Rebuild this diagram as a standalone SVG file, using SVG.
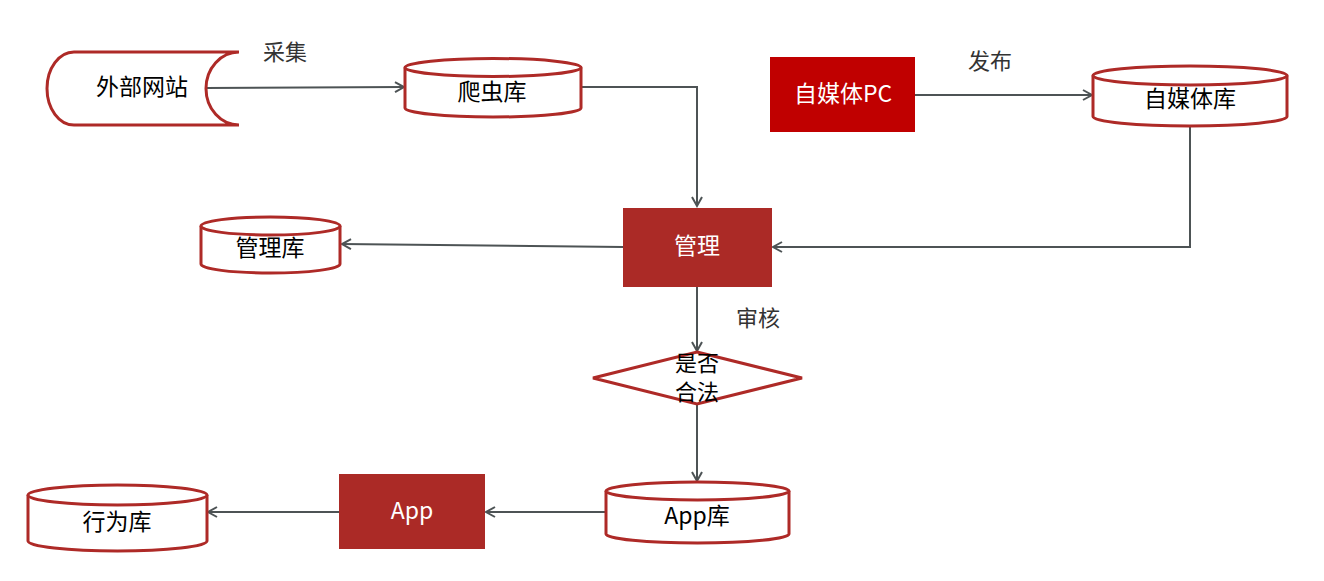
<svg xmlns="http://www.w3.org/2000/svg" width="1324" height="581" viewBox="0 0 1324 581">
  <defs>
    <marker id="arr" markerUnits="userSpaceOnUse" markerWidth="14" markerHeight="14" refX="10" refY="6" orient="auto" viewBox="0 0 14 12">
      <path d="M1,1 L10,6 L1,11" fill="none" stroke="#4D5355" stroke-width="2"/>
    </marker>
    <style>
      .db { fill: #FFFFFF; stroke: #AE2A27; stroke-width: 3; }
      .box { fill: #AB2A26; }
      .pc { fill: #C00000; }
      .t { font-family: "Noto Sans CJK SC", "Noto Sans", sans-serif; font-size: 23px; text-anchor: middle; dominant-baseline: central; fill: #000000; }
      .tw { fill: #FFFFFF; }
      .lbl { font-family: "Noto Sans CJK SC", "Noto Sans", sans-serif; font-size: 22px; text-anchor: middle; dominant-baseline: central; fill: #333333; }
      .c { fill: none; stroke: #4D5355; stroke-width: 2; marker-end: url(#arr); }
    </style>
  </defs>
  <rect width="1324" height="581" fill="#FFFFFF"/>

  <g id="connectors">
    <path class="c" d="M206,88 L404,87"/>
    <path class="c" d="M581,87 H697 V206"/>
    <path class="c" d="M915,95 H1092"/>
    <path class="c" d="M1190,126 V247 H773"/>
    <path class="c" d="M623,247 L342,244"/>
    <path class="c" d="M697,287 V351"/>
    <path class="c" d="M697,405 V481"/>
    <path class="c" d="M606,512 H486"/>
    <path class="c" d="M339,512 H208"/>
    <text class="lbl" x="285" y="50">采集</text>
    <text class="lbl" x="990" y="59">发布</text>
    <text class="lbl" x="758" y="316">审核</text>
  </g>

  <g id="waibu">
    <path class="db" d="M239,52 H74 A27,36.5 0 0 0 74,125 H239 A33,36.5 0 0 1 239,52 Z"/>
    <text class="t" x="142" y="85">外部网站</text>
  </g>

  <g id="pachongku">
    <path class="db" d="M405,67.5 V108 A88,9 0 0 0 581,108 V67.5"/>
    <ellipse class="db" cx="493" cy="67.5" rx="88" ry="9"/>
    <text class="t" x="492" y="90">爬虫库</text>
  </g>

  <g id="zimeitipc">
    <rect class="pc" x="770" y="57" width="145" height="75"/>
    <text class="t tw" x="843" y="92">自媒体PC</text>
  </g>

  <g id="zimeitiku">
    <path class="db" d="M1093,75.5 V116.5 A97,9.5 0 0 0 1287,116.5 V75.5"/>
    <ellipse class="db" cx="1190" cy="75.5" rx="97" ry="9.5"/>
    <text class="t" x="1190" y="97">自媒体库</text>
  </g>

  <g id="guanli">
    <rect class="box" x="623" y="208" width="149" height="79"/>
    <text class="t tw" x="697" y="244">管理</text>
  </g>

  <g id="guanliku">
    <path class="db" d="M201,226 V264 A69.5,9 0 0 0 340,264 V226"/>
    <ellipse class="db" cx="270.5" cy="226" rx="69.5" ry="9"/>
    <text class="t" x="270" y="246">管理库</text>
  </g>

  <g id="hefa">
    <path class="db" d="M697,352 L802,378 L697,404 L593,378 Z"/>
    <text class="t" x="697" y="361" style="font-size:22px"><tspan x="697" y="361">是否</tspan><tspan x="697" y="390">合法</tspan></text>
  </g>

  <g id="appku">
    <path class="db" d="M606,491 V534 A91.5,9 0 0 0 789,534 V491"/>
    <ellipse class="db" cx="697.5" cy="491" rx="91.5" ry="9"/>
    <text class="t" x="697" y="514">App库</text>
  </g>

  <g id="app">
    <rect class="box" x="339" y="474" width="146" height="75"/>
    <text class="t tw" x="412" y="509">App</text>
  </g>

  <g id="xingweiku">
    <path class="db" d="M28,495 V541 A89.5,10 0 0 0 207,541 V495"/>
    <ellipse class="db" cx="117.5" cy="495" rx="89.5" ry="10"/>
    <text class="t" x="117" y="520">行为库</text>
  </g>
</svg>
